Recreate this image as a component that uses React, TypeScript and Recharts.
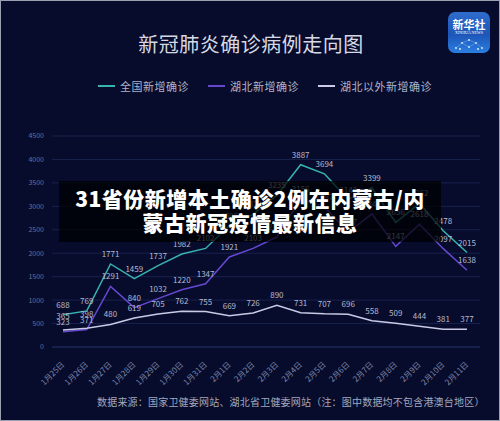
import { LineChart, Line, XAxis, YAxis, CartesianGrid, LabelList, Legend } from "recharts";

const dates = [
  "1月25日", "1月26日", "1月27日", "1月28日", "1月29日", "1月30日", "1月31日", "2月1日", "2月2日",
  "2月3日", "2月4日", "2月5日", "2月6日", "2月7日", "2月8日", "2月9日", "2月10日", "2月11日",
];
const nationalNew = [688, 769, 1771, 1459, 1737, 1982, 2102, 2590, 2829, 3235, 3887, 3694, 3143, 3399, 2656, 3062, 2478, 2015];
const hubeiNew = [323, 371, 1291, 840, 1032, 1220, 1347, 1921, 2103, 2345, 3156, 2987, 2447, 2841, 2147, 2618, 2097, 1638];
const outsideHubeiNew = [365, 398, 480, 619, 705, 762, 755, 669, 726, 890, 731, 707, 696, 558, 509, 444, 381, 377];
const yTicks = [0, 500, 1000, 1500, 2000, 2500, 3000, 3500, 4000, 4500];

const FONT = '"Noto Sans CJK SC", "Noto Sans", sans-serif';
const BG = "#070c2c";

const SERIES = [
  { key: "national", name: "全国新增确诊", color: "#37b3b0" },
  { key: "hubei", name: "湖北新增确诊", color: "#6648d0" },
  { key: "outside", name: "湖北以外新增确诊", color: "#c9cbe6" },
];

const data = dates.map((d, i) => ({
  date: d,
  national: nationalNew[i],
  hubei: hubeiNew[i],
  outside: outsideHubeiNew[i],
}));

function DateTick({ x, y, payload }: any) {
  return (
    <text
      x={x + 2}
      y={y + 10}
      transform={`rotate(-45, ${x + 2}, ${y + 10})`}
      textAnchor="end"
      fill="#7c84a8"
      fontSize={8}
      fontFamily={FONT}
    >
      {payload.value}
    </text>
  );
}

function makeLabel(lift: (i: number) => number) {
  return (props: any) => {
    const { x, y, value, index } = props;
    return (
      <text x={x} y={y - 7 - lift(index)} textAnchor="middle" fill="#b4b9cf" fontSize={8} fontFamily={FONT}>
        {value}
      </text>
    );
  };
}

function LegendRow() {
  return (
    <div style={{ display: "flex", justifyContent: "center", gap: 19, paddingLeft: 30, fontFamily: FONT, fontSize: 11, color: "#aeb3c8" }}>
      {SERIES.map((s) => (
        <div key={s.key} style={{ display: "flex", alignItems: "center", gap: 5 }}>
          <div style={{ width: 17, height: 2, background: s.color }} />
          <span style={{ letterSpacing: 0.5 }}>{s.name}</span>
        </div>
      ))}
    </div>
  );
}

function Logo() {
  return (
    <div
      style={{
        position: "absolute",
        left: 447,
        top: 11,
        width: 42,
        height: 41,
        borderRadius: 7,
        background: "linear-gradient(180deg, #2f6ccc 0%, #1d56b8 55%, #2a7fe0 100%)",
        color: "#fff",
        textAlign: "center",
        fontFamily: FONT,
        overflow: "hidden",
      }}
    >
      <div style={{ fontSize: 11, fontWeight: 700, lineHeight: "12px", marginTop: 6 }}>新华社</div>
      <div style={{ fontSize: 4, lineHeight: "5px", fontFamily: "serif" }}>XINHUA NEWS</div>
      <svg width={42} height={16} style={{ display: "block" }}>
        {[[8, 13], [14, 8], [21, 5], [28, 8], [34, 13], [21, 12], [12, 14], [30, 14]].map(([cx, cy], i) => (
          <circle key={i} cx={cx} cy={cy} r={1} fill="#dbe8ff" />
        ))}
        <polyline points="8,13 14,8 21,5 28,8 34,13" fill="none" stroke="#9cc2ff" strokeWidth={0.4} />
        <polyline points="14,8 21,12 28,8" fill="none" stroke="#9cc2ff" strokeWidth={0.4} />
      </svg>
    </div>
  );
}

export default function App() {
  return (
    <div
      style={{
        position: "fixed",
        left: 0,
        top: 0,
        width: 500,
        height: 421,
        background: BG,
        boxSizing: "border-box",
        border: "1px solid #9aa0b0",
        overflow: "hidden",
      }}
    >
      <div
        style={{
          position: "absolute",
          left: 0,
          top: 28,
          width: 500,
          textAlign: "center",
          fontFamily: FONT,
          fontSize: 20,
          color: "#d6d9e4",
          letterSpacing: 0.5,
        }}
      >
        新冠肺炎确诊病例走向图
      </div>
      <Logo />
      <div style={{ position: "absolute", left: -1, top: -1 }}>
        <LineChart width={500} height={421} data={data} margin={{ top: 120, right: 20, bottom: 24, left: 12 }}>
          <CartesianGrid vertical={false} stroke="#18224e" strokeWidth={1} />
          <XAxis
            dataKey="date"
            interval={0}
            height={50}
            tick={<DateTick />}
            tickLine={false}
            axisLine={{ stroke: "#1e2a5c" }}
            padding={{ left: 11, right: 13 }}
          />
          <YAxis
            width={40}
            domain={[0, 4500]}
            ticks={yTicks}
            tick={{ fill: "#6a7298", fontSize: 7, fontFamily: FONT }}
            tickLine={false}
            axisLine={false}
          />
          <Legend verticalAlign="top" wrapperStyle={{ top: 78, left: 0, width: 500 }} content={<LegendRow />} />
          <Line type="linear" dataKey="national" name="全国新增确诊" stroke={SERIES[0].color} strokeWidth={1.5} dot={false} isAnimationActive={false}>
            <LabelList dataKey="national" content={makeLabel(() => 0)} />
          </Line>
          <Line type="linear" dataKey="hubei" name="湖北新增确诊" stroke={SERIES[1].color} strokeWidth={1.5} dot={false} isAnimationActive={false}>
            <LabelList dataKey="hubei" content={makeLabel(() => 0)} />
          </Line>
          <Line type="linear" dataKey="outside" name="湖北以外新增确诊" stroke={SERIES[2].color} strokeWidth={1.5} dot={false} isAnimationActive={false}>
            <LabelList dataKey="outside" content={makeLabel((i) => (i < 2 ? 4 : 0))} />
          </Line>
        </LineChart>
      </div>
      <div
        style={{
          position: "absolute",
          left: 58,
          top: 180,
          width: 382,
          height: 61,
          background: "rgba(0,0,0,0.72)",
          color: "#fff",
          fontFamily: FONT,
          fontWeight: 900,
          fontSize: 21,
          lineHeight: "24px",
          textAlign: "center",
          paddingTop: 5,
          boxSizing: "border-box",
          letterSpacing: 0.5,
          textShadow: "0 0 2px #000",
        }}
      >
        <div>31省份新增本土确诊2例在内蒙古/内</div>
        <div>蒙古新冠疫情最新信息</div>
      </div>
      <div
        style={{
          position: "absolute",
          left: 96,
          top: 393,
          fontFamily: FONT,
          fontSize: 10,
          color: "#a3a8bd",
          whiteSpace: "nowrap",
          letterSpacing: 0.2,
        }}
      >
        数据来源：国家卫健委网站、湖北省卫健委网站（注：图中数据均不包含港澳台地区）
      </div>
    </div>
  );
}
